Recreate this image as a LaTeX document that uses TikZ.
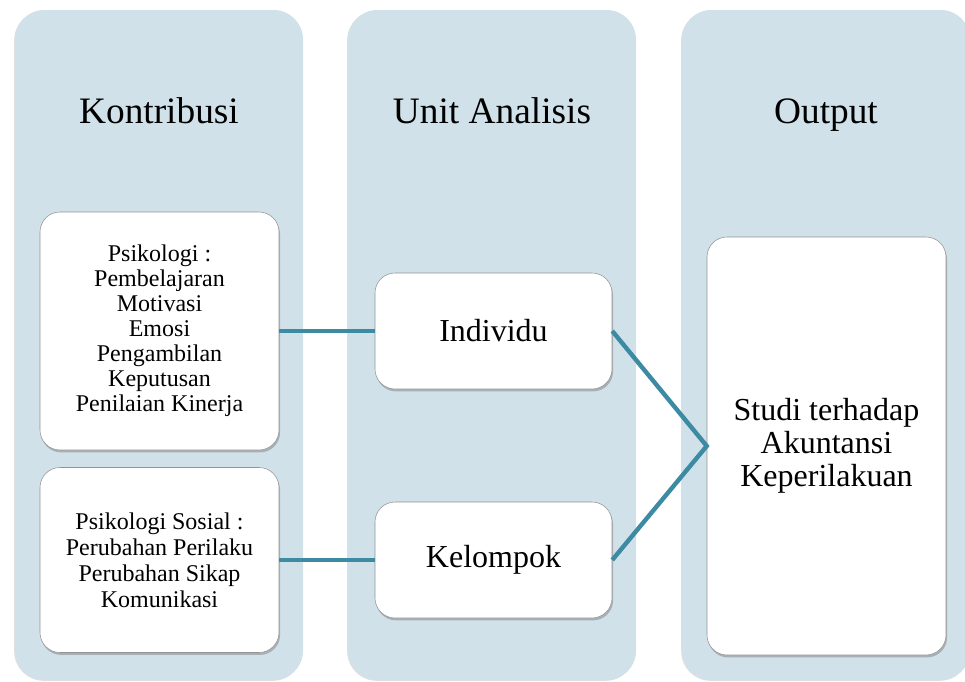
\documentclass[tikz,border=0pt]{standalone}
\usepackage{fontspec}
\setmainfont{Liberation Serif}
\usetikzlibrary{shadows}
\definecolor{colfill}{RGB}{208,225,233}
\definecolor{linkteal}{RGB}{60,139,163}
\tikzset{
	column/.style={rounded corners=22pt,fill=colfill,minimum width=216pt,minimum height=502.5pt,
		drop shadow={shadow xshift=-0.6pt,shadow yshift=-0.6pt,opacity=0.25}},
	coltitle/.style={font=\fontsize{28}{30}\selectfont,anchor=base},
	itembox/.style={rounded corners=15pt,draw=gray!85,fill=white,align=center,inner sep=0pt,
		drop shadow={shadow xshift=0.8pt,shadow yshift=-1.8pt,opacity=0.5}},
	link/.style={linkteal,line width=3.3pt}
}
\begin{document}
\begin{tikzpicture}[x=0.75pt,y=-0.75pt]
			\useasboundingbox (0,0) rectangle (965,682);
			\begin{scope}
				\clip (0,0) rectangle (965,682);
				% columns
				\node[column] (colA) at (159,345) {};
				\node[column] (colB) at (492,345) {};
				\node[column] (colC) at (826,345) {};
				\node[coltitle] (titleA) at (159,123) {Kontribusi};
				\node[coltitle] (titleB) at (492,123) {Unit Analisis};
				\node[coltitle] (titleC) at (826,123) {Output};
				% boxes
				\node[itembox,minimum width=179.25pt,minimum height=178.5pt,font=\fontsize{18}{18.8}\selectfont] (psi) at (159.5,331) {Psikologi :\\Pembelajaran\\Motivasi\\Emosi\\Pengambilan\\Keputusan\\Penilaian Kinerja};
				\node[itembox,minimum width=179.25pt,minimum height=138.75pt,font=\fontsize{18}{19.5}\selectfont] (sos) at (159.5,560) {Psikologi Sosial :\\Perubahan Perilaku\\Perubahan Sikap\\Komunikasi};
				\node[itembox,minimum width=177.75pt,minimum height=87pt,font=\fontsize{24}{25}\selectfont] (ind) at (493.5,331) {Individu};
				\node[itembox,minimum width=177.75pt,minimum height=87pt,font=\fontsize{24}{25}\selectfont] (kel) at (493.5,560) {Kelompok};
				\node[itembox,minimum width=179.25pt,minimum height=313.5pt,font=\fontsize{24}{24.8}\selectfont] (out) at (826.5,446) {Studi terhadap\\Akuntansi\\Keperilakuan};
				% links
				\draw[link] (psi.east) -- (ind.west);
				\draw[link] (sos.east) -- (kel.west);
				\draw[link] (ind.east) -- (out.west) -- (kel.east);
			\end{scope}
		\end{tikzpicture}
\end{document}
